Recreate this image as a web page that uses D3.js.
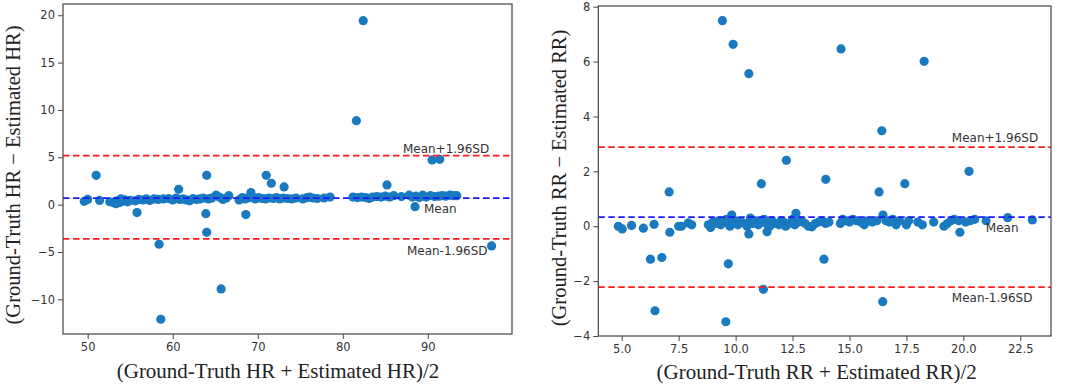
<!DOCTYPE html>
<html><head><meta charset="utf-8">
<script src="https://cdn.jsdelivr.net/npm/d3@7"></script>
<style>body{margin:0;background:#fff}svg{display:block}</style>
</head><body>
<svg id="c" width="1065" height="390"></svg>
<script>
// ---- Data ----
const hrOutliers = [[82.4,19.43],[81.6,8.87],[51.0,3.1],[64.0,3.1],[71.0,3.1],[71.6,2.26],[73.1,1.87],[60.7,1.62],[69.2,1.27],[85.2,2.08],[90.5,4.72],[91.4,4.79],[55.8,-0.84],[63.9,-0.95],[68.6,-1.05],[64.0,-2.92],[88.5,-0.21],[58.4,-4.18],[97.5,-4.36],[65.7,-8.9],[58.6,-12.1]];
const hrCluster = [[49.6,0.35],[50.0,0.55],[51.4,0.45],[52.6,0.3],[53.0,0.25],[53.3,0.1],[53.5,0.4],[53.7,0.2],[53.9,0.6],[54.1,0.35],[54.4,0.5],[54.7,0.3],[55.0,0.45],[55.6,0.4],[56.0,0.55],[56.5,0.5],[56.9,0.6],[57.3,0.45],[57.8,0.6],[58.3,0.55],[58.9,0.6],[59.5,0.65],[60.0,0.5],[60.4,0.7],[60.8,0.55],[61.2,0.6],[61.6,0.5],[62.0,0.4],[62.4,0.65],[62.8,0.55],[63.2,0.6],[63.6,0.7],[64.2,0.6],[64.6,0.7],[65.1,1.0],[65.5,0.8],[65.9,0.55],[66.3,0.7],[66.6,0.95],[67.8,0.5],[68.2,0.75],[68.5,0.6],[68.9,0.7],[69.3,0.9],[69.7,0.6],[70.1,0.75],[70.5,0.65],[70.9,0.6],[71.3,0.7],[71.8,0.65],[72.2,0.75],[72.6,0.6],[73.0,0.7],[73.5,0.65],[74.0,0.6],[74.5,0.7],[75.3,0.6],[75.8,0.75],[76.1,0.8],[76.5,0.7],[77.0,0.65],[77.8,0.7],[78.5,0.8],[81.2,0.8],[81.7,0.75],[82.2,0.8],[82.7,0.75],[83.1,0.65],[83.5,0.8],[84.0,0.85],[84.5,0.8],[85.0,0.9],[85.5,0.8],[86.0,0.95],[86.9,0.85],[87.8,1.0],[88.2,0.8],[88.6,0.9],[89.0,0.75],[89.4,1.0],[89.8,0.8],[90.3,0.95],[90.8,0.85],[91.3,0.9],[91.7,0.95],[92.1,0.9],[92.6,1.0],[93.0,0.95],[93.4,0.95]];
const hrLimits = {mean:0.68, upper:5.17, lower:-3.62};
const hrXTicks = [50,60,70,80,90];
const hrYTicks = [-10,-5,0,5,10,15,20];

const rrOutliers = [[9.42,7.49],[9.89,6.63],[10.58,5.56],[14.63,6.46],[18.28,6.01],[16.42,3.48],[12.23,2.4],[20.25,2.0],[13.96,1.71],[11.13,1.55],[17.43,1.55],[7.08,1.25],[16.3,1.25],[6.26,-1.2],[6.76,-1.14],[13.88,-1.2],[9.68,-1.37],[11.22,-2.3],[16.46,-2.75],[6.46,-3.08],[9.57,-3.48],[7.11,-0.22],[10.58,-0.28],[11.38,-0.2],[19.85,-0.22],[9.83,0.41],[12.65,0.47],[16.47,0.41],[21.95,0.31],[23.03,0.23]];
const rrCluster = [[4.85,0.0],[5.02,-0.1],[5.43,0.03],[5.95,-0.07],[6.42,0.07],[7.5,0.0],[7.62,0.0],[7.92,0.12],[8.07,0.05],[8.8,0.05],[8.9,-0.05],[9.0,0.15],[9.1,0.1],[9.25,0.2],[9.35,0.05],[9.5,0.15],[9.6,0.25],[9.75,0.0],[9.9,0.1],[10.0,0.2],[10.1,0.05],[10.25,0.15],[10.4,0.1],[10.5,0.0],[10.65,0.3],[10.75,0.1],[10.9,0.2],[11.0,0.05],[11.1,0.15],[11.25,0.25],[11.35,0.1],[11.5,0.0],[11.6,0.2],[11.75,0.1],[11.9,0.05],[12.0,0.2],[12.1,0.15],[12.2,0.0],[12.35,0.1],[12.5,0.25],[12.6,0.05],[12.75,0.15],[12.9,0.2],[13.05,0.1],[13.2,0.0],[13.35,-0.02],[13.5,0.1],[13.65,0.15],[13.8,0.2],[13.95,0.1],[14.1,0.15],[14.6,0.1],[14.7,0.25],[14.85,0.2],[15.0,0.15],[15.15,0.25],[15.3,0.2],[15.5,0.15],[15.65,0.05],[15.8,0.2],[16.0,0.15],[16.2,0.2],[16.6,0.2],[16.75,0.15],[16.9,0.25],[17.05,0.05],[17.2,0.2],[17.5,0.05],[17.6,0.2],[18.0,0.15],[18.2,0.05],[18.7,0.15],[19.15,0.0],[19.3,0.1],[19.45,0.2],[19.6,0.25],[19.8,0.2],[20.1,0.15],[20.3,0.2],[20.5,0.25],[21.0,0.2]];
const rrLimits = {mean:0.33, upper:2.88, lower:-2.22};
const rrXTicks = [5.0,7.5,10.0,12.5,15.0,17.5,20.0,22.5];
const rrYTicks = [-4,-2,0,2,4,6,8];

const svg = d3.select("#c");
const PT = "#1a7abf";

function panel(cfg){
  const g = svg.append("g");
  const x = d3.scaleLinear().domain(cfg.xDomain).range([cfg.left, cfg.right]);
  const y = d3.scaleLinear().domain(cfg.yDomain).range([cfg.bottom, cfg.top]);

  const xa = g.append("g").attr("transform",`translate(0,${cfg.bottom})`)
    .call(d3.axisBottom(x).tickValues(cfg.xTicks).tickFormat(cfg.xFmt).tickSizeOuter(0).tickSize(5).tickPadding(4));
  const ya = g.append("g").attr("transform",`translate(${cfg.left},0)`)
    .call(d3.axisLeft(y).tickValues(cfg.yTicks).tickFormat(cfg.yFmt).tickSizeOuter(0).tickSize(5).tickPadding(3));
  [xa,ya].forEach(a=>{
    a.select(".domain").remove();
    a.selectAll("line").attr("stroke","#444");
    a.selectAll("text").attr("fill","#333").style("font-family","'DejaVu Sans',sans-serif").style("font-size","11.5px");
  });

  const pts = cfg.cluster.concat(cfg.outliers);
  g.append("g").selectAll("circle").data(pts).join("circle")
    .attr("cx",d=>x(d[0])).attr("cy",d=>y(d[1])).attr("r",4.6).attr("fill",PT);

  const lines = [[cfg.limits.upper,"#ff1a1a"],[cfg.limits.mean,"#1a1aff"],[cfg.limits.lower,"#ff1a1a"]];
  g.append("g").selectAll("line").data(lines).join("line")
    .attr("x1",cfg.left).attr("x2",cfg.right)
    .attr("y1",d=>y(d[0])).attr("y2",d=>y(d[0]))
    .attr("stroke",d=>d[1]).attr("stroke-width",1.7).attr("stroke-dasharray","6.5,3.5");

  const lab = [["Mean+1.96SD",cfg.limits.upper,cfg.upOff,cfg.sdFrac],["Mean",cfg.limits.mean,cfg.meanOff,cfg.meanFrac],["Mean-1.96SD",cfg.limits.lower,cfg.lowOff,cfg.sdFrac2]];
  g.append("g").selectAll("text").data(lab).join("text")
    .attr("x",d=>cfg.left+(cfg.right-cfg.left)*d[3]).attr("y",d=>y(d[1])+d[2])
    .attr("fill","#333").style("font-family","'DejaVu Sans',sans-serif").style("font-size","12px").text(d=>d[0]);

  g.append("rect").attr("x",cfg.left).attr("y",cfg.top).attr("width",cfg.right-cfg.left).attr("height",cfg.bottom-cfg.top)
    .attr("fill","none").attr("stroke","#444").attr("stroke-width",1.2);

  g.append("text").attr("x",(cfg.left+cfg.right)/2 + cfg.xlabDx).attr("y",cfg.xlabY).attr("text-anchor","middle")
    .attr("fill","#222").style("font-family","'Liberation Serif','Times New Roman',serif").style("font-size","21px").text(cfg.xLabel);
  g.append("text").attr("transform",`translate(${cfg.ylabX},${(cfg.top+cfg.bottom)/2+cfg.ylabDy}) rotate(-90)`).attr("text-anchor","middle")
    .attr("fill","#222").style("font-family","'Liberation Serif','Times New Roman',serif").style("font-size","20.5px").text(cfg.yLabel);
}

panel({left:63,right:512,top:4,bottom:334,xDomain:[47.1,99.9],yDomain:[-13.66,21.19],
  xTicks:hrXTicks,yTicks:hrYTicks,xFmt:d3.format("d"),yFmt:d3.format("d"),
  cluster:hrCluster,outliers:hrOutliers,limits:hrLimits,
  upOff:-3,meanOff:15,lowOff:16.5,sdFrac:0.757,meanFrac:0.804,sdFrac2:0.766,
  xLabel:"(Ground-Truth HR + Estimated HR)/2",xlabY:378,xlabDx:-9.5,
  yLabel:"(Ground-Truth HR \u2212 Estimated HR)",ylabX:19.5,ylabDy:6});

panel({left:598.3,right:1051,top:6,bottom:336,xDomain:[3.97,23.85],yDomain:[-4.0,8.025],
  xTicks:rrXTicks,yTicks:rrYTicks,xFmt:d3.format(".1f"),yFmt:d3.format("d"),
  cluster:rrCluster,outliers:rrOutliers,limits:rrLimits,
  upOff:-5,meanOff:15,lowOff:15,sdFrac:0.781,meanFrac:0.856,sdFrac2:0.781,
  xLabel:"(Ground-Truth RR + Estimated RR)/2",xlabY:379,xlabDx:-8,
  yLabel:"(Ground-Truth RR \u2212 Estimated RR)",ylabX:566,ylabDy:7});
</script>
</body></html>
